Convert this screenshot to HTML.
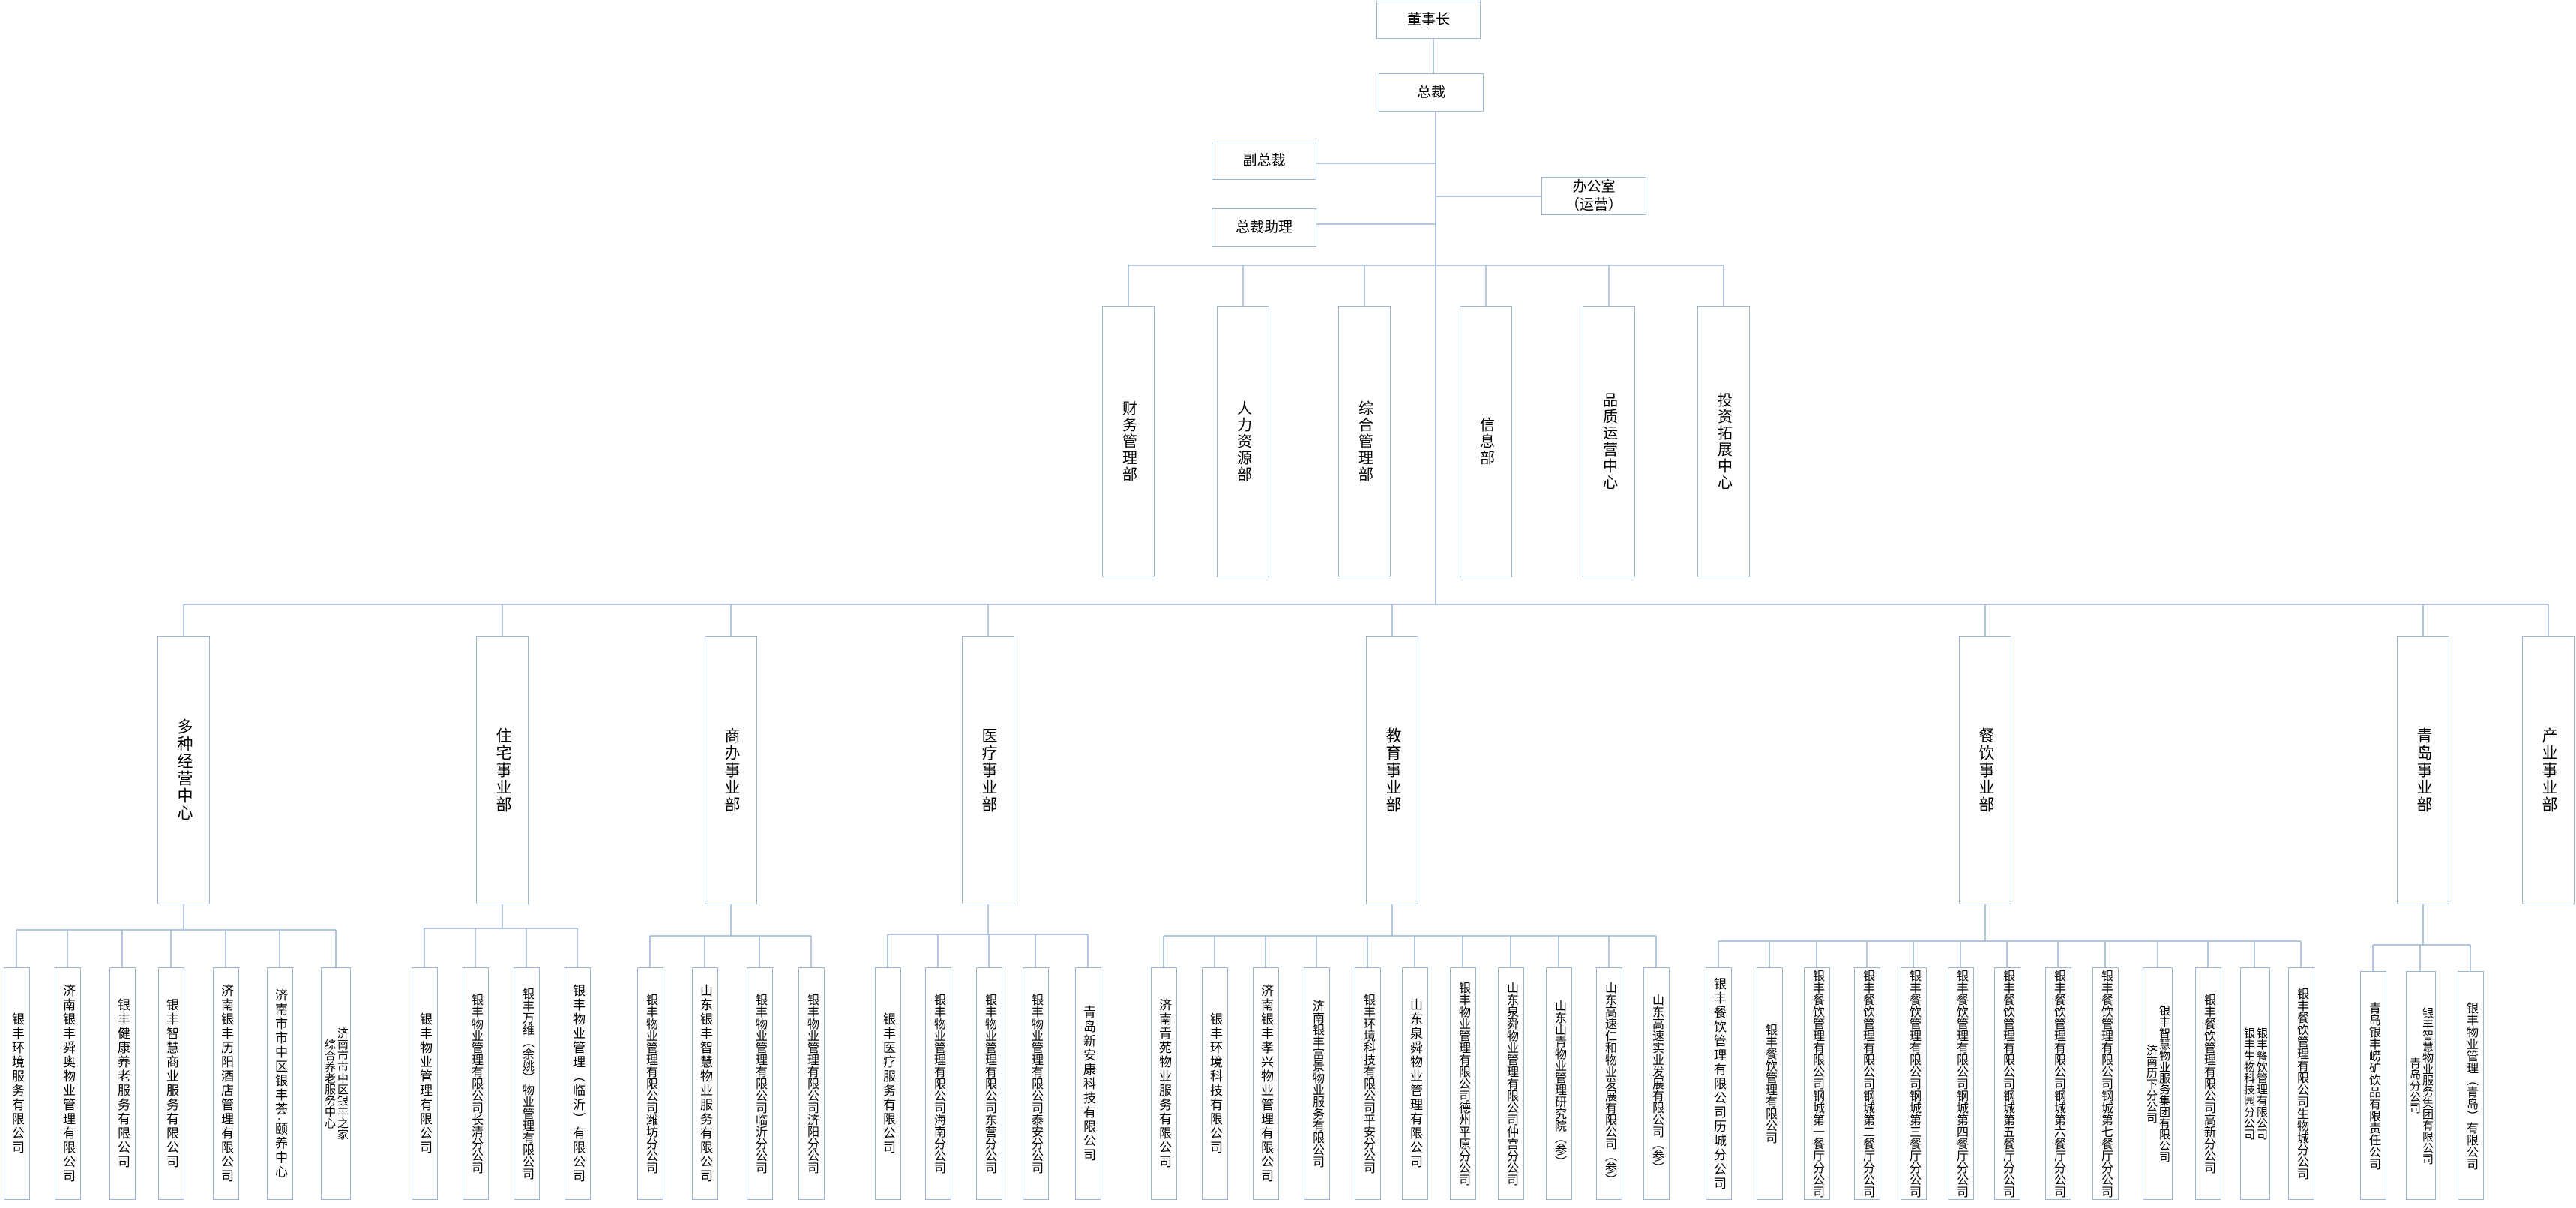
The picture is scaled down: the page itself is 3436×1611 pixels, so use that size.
<!DOCTYPE html>
<html><head><meta charset="utf-8">
<style>
body{margin:0;background:#fff;}
#c{position:relative;width:3436px;height:1611px;overflow:hidden;background:#fff;font-family:"Liberation Sans","Noto Sans CJK SC",sans-serif;color:#000;}
svg{position:absolute;left:0;top:0;}
.b{position:absolute;box-sizing:border-box;border:1.5px solid #9ab5d6;background:#fff;display:flex;align-items:center;justify-content:center;text-align:center;}
.h{font-size:19px;line-height:24px;}
.v{writing-mode:vertical-rl;}
.d{top:408px;width:70px;height:362px;font-size:20px;letter-spacing:2px;}
.dv{top:848px;width:70px;height:358px;font-size:21px;letter-spacing:2px;}
.l{top:1290px;width:35px;height:310px;font-size:17px;letter-spacing:2px;line-height:19px;}
.s{letter-spacing:0;font-size:16px;}
.t{letter-spacing:0;font-size:15px;line-height:17px;width:40px;}
</style></head><body><div id="c">
<svg width="3436" height="1611" stroke="#9ab5d6" stroke-width="1.5" fill="none">
<line x1="1912" y1="52" x2="1912" y2="98"/>
<line x1="1915" y1="149" x2="1915" y2="806"/>
<line x1="1756" y1="218" x2="1915" y2="218"/>
<line x1="1756" y1="299" x2="1915" y2="299"/>
<line x1="1915" y1="262" x2="2056" y2="262"/>
<line x1="1505" y1="354" x2="2299" y2="354"/>
<line x1="1505" y1="354" x2="1505" y2="408"/><line x1="1658" y1="354" x2="1658" y2="408"/><line x1="1820" y1="354" x2="1820" y2="408"/><line x1="1982" y1="354" x2="1982" y2="408"/><line x1="2146" y1="354" x2="2146" y2="408"/><line x1="2299" y1="354" x2="2299" y2="408"/>
<line x1="245" y1="806" x2="3399" y2="806"/>
<line x1="245" y1="806" x2="245" y2="848"/><line x1="670" y1="806" x2="670" y2="848"/><line x1="975" y1="806" x2="975" y2="848"/><line x1="1318" y1="806" x2="1318" y2="848"/><line x1="1857" y1="806" x2="1857" y2="848"/><line x1="2648" y1="806" x2="2648" y2="848"/><line x1="3232" y1="806" x2="3232" y2="848"/><line x1="3399" y1="806" x2="3399" y2="848"/>
<!-- 多种 -->
<line x1="245" y1="1206" x2="245" y2="1240"/><line x1="22" y1="1240" x2="448" y2="1240"/>
<line x1="22" y1="1240" x2="22" y2="1290"/><line x1="90" y1="1240" x2="90" y2="1290"/><line x1="163" y1="1240" x2="163" y2="1290"/><line x1="228" y1="1240" x2="228" y2="1290"/><line x1="301" y1="1240" x2="301" y2="1290"/><line x1="373" y1="1240" x2="373" y2="1290"/><line x1="448" y1="1240" x2="448" y2="1290"/>
<!-- 住宅 -->
<line x1="670" y1="1206" x2="670" y2="1238"/><line x1="566" y1="1238" x2="770" y2="1238"/>
<line x1="566" y1="1238" x2="566" y2="1290"/><line x1="634" y1="1238" x2="634" y2="1290"/><line x1="702" y1="1238" x2="702" y2="1290"/><line x1="770" y1="1238" x2="770" y2="1290"/>
<!-- 商办 -->
<line x1="975" y1="1206" x2="975" y2="1248"/><line x1="867" y1="1248" x2="1082" y2="1248"/>
<line x1="867" y1="1248" x2="867" y2="1290"/><line x1="940" y1="1248" x2="940" y2="1290"/><line x1="1013" y1="1248" x2="1013" y2="1290"/><line x1="1082" y1="1248" x2="1082" y2="1290"/>
<!-- 医疗 -->
<line x1="1318" y1="1206" x2="1318" y2="1246"/><line x1="1184" y1="1246" x2="1451" y2="1246"/>
<line x1="1184" y1="1246" x2="1184" y2="1290"/><line x1="1251" y1="1246" x2="1251" y2="1290"/><line x1="1319" y1="1246" x2="1319" y2="1290"/><line x1="1381" y1="1246" x2="1381" y2="1290"/><line x1="1451" y1="1246" x2="1451" y2="1290"/>
<!-- 教育 -->
<line x1="1857" y1="1206" x2="1857" y2="1248"/><line x1="1552" y1="1248" x2="2209" y2="1248"/>
<line x1="1552" y1="1248" x2="1552" y2="1290"/><line x1="1620" y1="1248" x2="1620" y2="1290"/><line x1="1688" y1="1248" x2="1688" y2="1290"/><line x1="1756" y1="1248" x2="1756" y2="1290"/><line x1="1824" y1="1248" x2="1824" y2="1290"/><line x1="1887" y1="1248" x2="1887" y2="1290"/><line x1="1951" y1="1248" x2="1951" y2="1290"/><line x1="2015" y1="1248" x2="2015" y2="1290"/><line x1="2079" y1="1248" x2="2079" y2="1290"/><line x1="2146" y1="1248" x2="2146" y2="1290"/><line x1="2209" y1="1248" x2="2209" y2="1290"/>
<!-- 餐饮 -->
<line x1="2648" y1="1206" x2="2648" y2="1255"/><line x1="2292" y1="1255" x2="3069" y2="1255"/>
<line x1="2292" y1="1255" x2="2292" y2="1290"/><line x1="2360" y1="1255" x2="2360" y2="1290"/><line x1="2423" y1="1255" x2="2423" y2="1290"/><line x1="2490" y1="1255" x2="2490" y2="1290"/><line x1="2552" y1="1255" x2="2552" y2="1290"/><line x1="2615" y1="1255" x2="2615" y2="1290"/><line x1="2677" y1="1255" x2="2677" y2="1290"/><line x1="2745" y1="1255" x2="2745" y2="1290"/><line x1="2808" y1="1255" x2="2808" y2="1290"/><line x1="2878" y1="1255" x2="2878" y2="1290"/><line x1="2945" y1="1255" x2="2945" y2="1290"/><line x1="3007" y1="1255" x2="3007" y2="1290"/><line x1="3069" y1="1255" x2="3069" y2="1290"/>
<!-- 青岛 -->
<line x1="3232" y1="1206" x2="3232" y2="1260"/><line x1="3165" y1="1260" x2="3295" y2="1260"/>
<line x1="3165" y1="1260" x2="3165" y2="1295"/><line x1="3228" y1="1260" x2="3228" y2="1295"/><line x1="3295" y1="1260" x2="3295" y2="1295"/>
</svg>

<div class="b h" style="left:1836px;top:1px;width:139px;height:51px;">董事长</div>
<div class="b h" style="left:1839px;top:98px;width:140px;height:51px;">总裁</div>
<div class="b h" style="left:1616px;top:189px;width:140px;height:51px;">副总裁</div>
<div class="b h" style="left:1616px;top:278px;width:140px;height:51px;">总裁助理</div>
<div class="b h" style="left:2056px;top:236px;width:140px;height:51px;">办公室<br>（运营）</div>

<div class="b v d" style="left:1470px;">财务管理部</div>
<div class="b v d" style="left:1623px;">人力资源部</div>
<div class="b v d" style="left:1785px;">综合管理部</div>
<div class="b v d" style="left:1947px;">信息部</div>
<div class="b v d" style="left:2111px;">品质运营中心</div>
<div class="b v d" style="left:2264px;">投资拓展中心</div>

<div class="b v dv" style="left:210px;">多种经营中心</div>
<div class="b v dv" style="left:635px;">住宅事业部</div>
<div class="b v dv" style="left:940px;">商办事业部</div>
<div class="b v dv" style="left:1283px;">医疗事业部</div>
<div class="b v dv" style="left:1822px;">教育事业部</div>
<div class="b v dv" style="left:2613px;">餐饮事业部</div>
<div class="b v dv" style="left:3197px;">青岛事业部</div>
<div class="b v dv" style="left:3364px;">产业事业部</div>

<div class="b v l" style="left:5px;">银丰环境服务有限公司</div>
<div class="b v l" style="left:73px;">济南银丰舜奥物业管理有限公司</div>
<div class="b v l" style="left:146px;">银丰健康养老服务有限公司</div>
<div class="b v l" style="left:211px;">银丰智慧商业服务有限公司</div>
<div class="b v l" style="left:284px;">济南银丰历阳酒店管理有限公司</div>
<div class="b v l" style="left:356px;">济南市市中区银丰荟·颐养中心</div>
<div class="b v l t" style="left:428px;">济南市市中区银丰之家<br>综合养老服务中心</div>

<div class="b v l" style="left:549px;">银丰物业管理有限公司</div>
<div class="b v l s" style="left:617px;">银丰物业管理有限公司长清分公司</div>
<div class="b v l s" style="left:685px;">银丰万维（余姚）物业管理有限公司</div>
<div class="b v l" style="left:753px;">银丰物业管理（临沂）有限公司</div>

<div class="b v l s" style="left:850px;">银丰物业管理有限公司潍坊分公司</div>
<div class="b v l" style="left:923px;">山东银丰智慧物业服务有限公司</div>
<div class="b v l s" style="left:996px;">银丰物业管理有限公司临沂分公司</div>
<div class="b v l s" style="left:1065px;">银丰物业管理有限公司济阳分公司</div>

<div class="b v l" style="left:1167px;">银丰医疗服务有限公司</div>
<div class="b v l s" style="left:1234px;">银丰物业管理有限公司海南分公司</div>
<div class="b v l s" style="left:1302px;">银丰物业管理有限公司东营分公司</div>
<div class="b v l s" style="left:1364px;">银丰物业管理有限公司泰安分公司</div>
<div class="b v l" style="left:1434px;">青岛新安康科技有限公司</div>

<div class="b v l" style="left:1535px;">济南青苑物业服务有限公司</div>
<div class="b v l" style="left:1603px;">银丰环境科技有限公司</div>
<div class="b v l" style="left:1671px;">济南银丰孝兴物业管理有限公司</div>
<div class="b v l s" style="left:1739px;">济南银丰富景物业服务有限公司</div>
<div class="b v l s" style="left:1807px;">银丰环境科技有限公司平安分公司</div>
<div class="b v l" style="left:1870px;">山东泉舜物业管理有限公司</div>
<div class="b v l s" style="left:1934px;">银丰物业管理有限公司德州平原分公司</div>
<div class="b v l s" style="left:1998px;">山东泉舜物业管理有限公司仲宫分公司</div>
<div class="b v l s" style="left:2062px;">山东山青物业管理研究院（参）</div>
<div class="b v l s" style="left:2129px;">山东高速仁和物业发展有限公司（参）</div>
<div class="b v l s" style="left:2192px;">山东高速实业发展有限公司（参）</div>

<div class="b v l" style="left:2275px;">银丰餐饮管理有限公司历城分公司</div>
<div class="b v l s" style="left:2343px;">银丰餐饮管理有限公司</div>
<div class="b v l s" style="left:2406px;">银丰餐饮管理有限公司钢城第一餐厅分公司</div>
<div class="b v l s" style="left:2473px;">银丰餐饮管理有限公司钢城第二餐厅分公司</div>
<div class="b v l s" style="left:2535px;">银丰餐饮管理有限公司钢城第三餐厅分公司</div>
<div class="b v l s" style="left:2598px;">银丰餐饮管理有限公司钢城第四餐厅分公司</div>
<div class="b v l s" style="left:2660px;">银丰餐饮管理有限公司钢城第五餐厅分公司</div>
<div class="b v l s" style="left:2728px;">银丰餐饮管理有限公司钢城第六餐厅分公司</div>
<div class="b v l s" style="left:2791px;">银丰餐饮管理有限公司钢城第七餐厅分公司</div>
<div class="b v l t" style="left:2858px;">银丰智慧物业服务集团有限公司<br>济南历下分公司</div>
<div class="b v l s" style="left:2928px;">银丰餐饮管理有限公司高新分公司</div>
<div class="b v l t" style="left:2988px;">银丰餐饮管理有限公司<br>银丰生物科技园分公司</div>
<div class="b v l s" style="left:3052px;">银丰餐饮管理有限公司生物城分公司</div>

<div class="b v l s" style="left:3148px;top:1295px;height:305px;">青岛银丰崂矿饮品有限责任公司</div>
<div class="b v l t" style="left:3209px;top:1295px;height:305px;">银丰智慧物业服务集团有限公司<br>青岛分公司</div>
<div class="b v l s" style="left:3278px;top:1295px;height:305px;">银丰物业管理（青岛）有限公司</div>
</div></body></html>
